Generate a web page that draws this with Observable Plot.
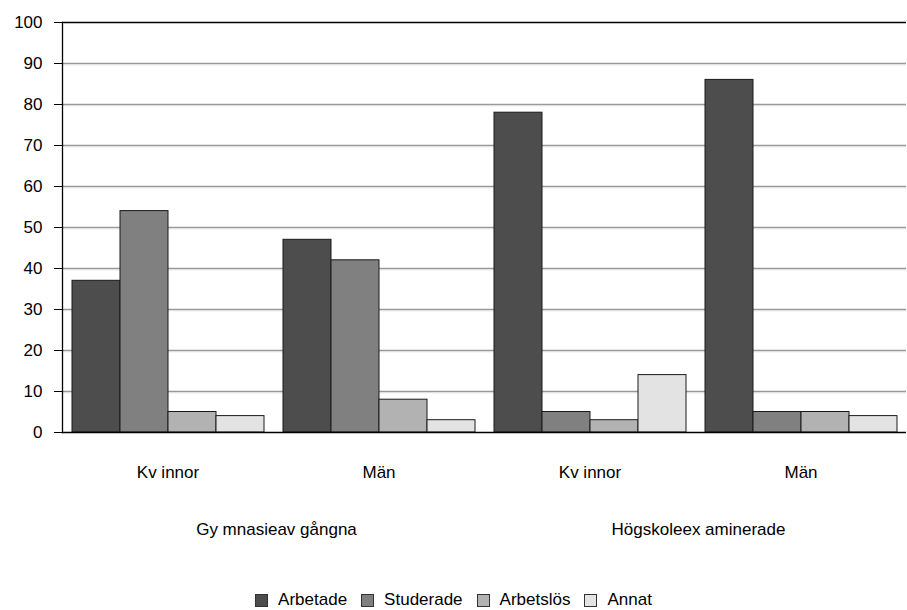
<!DOCTYPE html>
<html>
<head>
<meta charset="utf-8">
<script src="https://cdn.jsdelivr.net/npm/d3@7"></script>
<script src="https://cdn.jsdelivr.net/npm/@observablehq/plot@0.6"></script>
<style>
  html, body { margin: 0; padding: 0; background: #fff; }
  body { width: 907px; height: 610px; overflow: hidden; font-family: "Liberation Sans", Arial, sans-serif; }
  #legend { display: flex; justify-content: center; align-items: center; height: 20px; margin-top: 30px; font-size: 17px; color: #000; }
  #legend .item { display: flex; align-items: center; margin: 0 7px; }
  #legend .sw { width: 11px; height: 11px; border: 1px solid #333; margin-right: 10px; }
</style>
</head>
<body>
<div id="chart"></div>
<div id="legend"></div>
<script>
const outerGroups = ["Gy mnasieav gångna", "Högskoleex aminerade"];
const subGroups = ["Kv innor", "Män", "Kv innor", "Män"];
const series = ["Arbetade", "Studerade", "Arbetslös", "Annat"];
const colors = ["#4d4d4d", "#808080", "#b2b2b2", "#e3e3e3"];
const arbetade = [37, 47, 78, 86];
const studerade = [54, 42, 5, 5];
const arbetslos = [5, 8, 3, 5];
const annat = [4, 3, 14, 4];
const yTicks = [0, 10, 20, 30, 40, 50, 60, 70, 80, 90, 100];

const valuesBySeries = [arbetade, studerade, arbetslos, annat];
const data = [];
subGroups.forEach((g, i) => {
  series.forEach((s, j) => {
    data.push({cat: i, series: s, value: valuesBySeries[j][i]});
  });
});
const outerData = outerGroups.map((t, i) => ({t, cat: 2 * i}));

const chart = Plot.plot({
  width: 907,
  height: 560,
  marginLeft: 61,
  marginRight: 0,
  marginTop: 22,
  marginBottom: 128,
  style: {fontFamily: "Liberation Sans, Arial, sans-serif", fontSize: "17px", color: "#000", background: "#fff"},
  fx: {domain: [0, 1, 2, 3], padding: 0, label: null},
  x: {domain: series, paddingInner: 0, paddingOuter: 0.18, axis: null},
  y: {domain: [0, 100], label: null},
  color: {domain: series, range: colors},
  marks: [
    Plot.ruleY(yTicks.slice(1, -1), {stroke: "#f0f0f0", strokeWidth: 1, dy: 1.5}),
    Plot.ruleY(yTicks.slice(1, -1), {stroke: "#999", strokeWidth: 1.5}),
    Plot.barY(data, {fx: "cat", x: "series", y: "value", fill: "series", stroke: "#1a1a1a", strokeWidth: 1, inset: 0}),
    Plot.ruleY([0, 100], {stroke: "#000", strokeWidth: 1.3}),
    Plot.frame({anchor: "left", facetAnchor: "left", stroke: "#000", strokeWidth: 1.3}),
    Plot.axisY({ticks: yTicks, tickSize: 8, tickPadding: 12, fontSize: 17, stroke: "#000", label: null}),
    Plot.axisFx({anchor: "bottom", tickSize: 0, tickPadding: 33, fontSize: 17, tickFormat: i => subGroups[i], label: null}),
    Plot.text(outerData, {fx: "cat", text: "t", frameAnchor: "bottom-right", textAnchor: "middle", lineAnchor: "middle", dy: 97, dx: 3, fontSize: 17, fill: "#000"})
  ]
});
document.getElementById("chart").appendChild(chart);

const legend = document.getElementById("legend");
series.forEach((s, i) => {
  const item = document.createElement("div");
  item.className = "item";
  const sw = document.createElement("div");
  sw.className = "sw";
  sw.style.background = colors[i];
  const lab = document.createElement("span");
  lab.textContent = s;
  item.appendChild(sw);
  item.appendChild(lab);
  legend.appendChild(item);
});
</script>
</body>
</html>
